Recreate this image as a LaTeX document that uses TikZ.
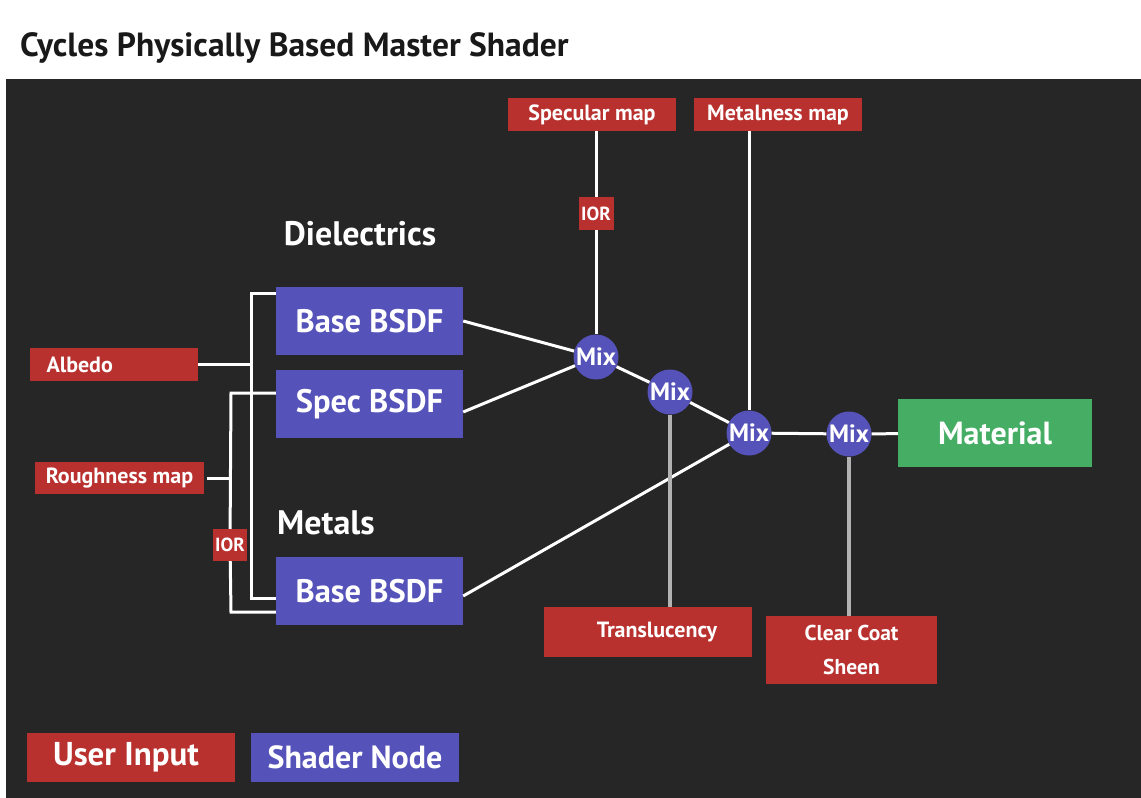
\documentclass[tikz,border=0pt]{standalone}
\usepackage{fontspec}
\setmainfont{PT Sans}
\definecolor{panelgray}{HTML}{262626}
\definecolor{inputred}{HTML}{B8312F}
\definecolor{shaderblue}{HTML}{5553B9}
\definecolor{materialgreen}{HTML}{46AD64}
\definecolor{paramgray}{HTML}{B2B2B2}
\tikzset{
  wire/.style={draw=white,line width=3pt},
  paramwire/.style={draw=paramgray,line width=4pt},
  userinput/.style={fill=inputred,text=white,inner sep=0pt,font=\bfseries\fontsize{22}{26}\selectfont},
  shadernode/.style={fill=shaderblue,text=white,inner sep=0pt,minimum width=187pt,minimum height=68pt,font=\bfseries\fontsize{32.5}{38}\selectfont},
  mixnode/.style={circle,fill=shaderblue,text=white,inner sep=0pt,minimum size=45pt,font=\bfseries\fontsize{25}{30}\selectfont},
  grouplabel/.style={text=white,font=\bfseries\fontsize{34}{40}\selectfont},
}
\begin{document}
\begin{tikzpicture}[x=1pt,y=-1pt]
    \pgfmathsetmacro{\mapwidth}{168}
    \pgfmathsetmacro{\mapheight}{33}
    \fill[white] (0,0) rectangle (1141,798);
    \fill[panelgray] (6,79) rectangle (1141,798);
    \node[anchor=base west,text=black!90,inner sep=0pt,font=\bfseries\fontsize{33.5}{40}\selectfont] (title) at (20,56) {Cycles Physically Based Master Shader};
    % inputs on top
    \node[userinput,minimum width=\mapwidth pt,minimum height=\mapheight pt] (specmap) at (592,114.5) {Specular map};
    \node[userinput,minimum width=\mapwidth pt,minimum height=\mapheight pt] (metalmap) at (778,114.5) {Metalness map};
    \node[userinput,minimum width=35pt,minimum height=33pt,font=\bfseries\fontsize{19}{24}\selectfont] (iortop) at (596,213.5) {IOR};
    % shader nodes
    \node[grouplabel] (dielectrics) at (360,234) {Dielectrics};
    \node[shadernode] (base1) at (369.5,321) {Base BSDF};
    \node[shadernode] (spec) at (369.5,404) {Spec BSDF};
    \node[grouplabel] (metals) at (326,523) {Metals};
    \node[shadernode] (base2) at (369.5,591) {Base BSDF};
    \node[mixnode] (mix1) at (596,357) {Mix};
    \node[mixnode] (mix2) at (670,392) {Mix};
    \node[mixnode] (mix3) at (749,433) {Mix};
    \node[mixnode] (mix4) at (849,434) {Mix};
    \node[fill=materialgreen,text=white,inner sep=0pt,minimum width=194pt,minimum height=68pt,font=\bfseries\fontsize{32}{40}\selectfont] (material) at (995,433) {Material};
    % inputs below and left
    \node[userinput,minimum width=208pt,minimum height=50pt] (transl) at (648,632) {\hspace*{18pt}Translucency};
    \node[userinput,minimum width=171pt,minimum height=68pt,align=center,font=\bfseries\fontsize{21.5}{34}\selectfont] (coat) at (851.5,650) {Clear Coat\\Sheen};
    \node[userinput,minimum width=\mapwidth pt,minimum height=\mapheight pt,text width=134pt,align=left] (albedo) at (113.5,364.5) {Albedo};
    \node[userinput,minimum width=169pt,minimum height=32pt] (rough) at (119.5,478) {Roughness map};
    \node[userinput,minimum width=34pt,minimum height=32pt,font=\bfseries\fontsize{19}{24}\selectfont] (iorleft) at (230,545) {IOR};
    \coordinate (atop) at (251,293);
    \coordinate (abot) at (251,598);
    \coordinate (rtop) at (231,393);
    \coordinate (rbot) at (231,612);
    \draw[wire] (albedo.east) -- (albedo.east -| atop);
    \draw[wire] (base1.west |- atop) -- (atop) -- (abot) -- (abot -| base2.west);
    \draw[wire] ([xshift=3pt]rough.east) -- (rough.east -| rtop);
    \draw[wire] (spec.west |- rtop) -- (rtop) -- (iorleft);
    \draw[wire] (iorleft) -- (rbot) -- (rbot -| base2.west);
    % mixing chain
    \draw[wire] (base1.east) -- (mix1);
    \draw[wire] ([yshift=-8pt]spec.east) -- (mix1);
    \draw[wire] ([yshift=-5pt]base2.east) -- (mix3);
    \draw[wire] (mix1) -- (mix2) -- (mix3) -- (mix4) -- (material);
    \draw[wire] (iortop |- specmap.south) -- (iortop) -- (mix1);
    \draw[wire] (mix3 |- metalmap.south) -- (mix3);
    \draw[paramwire] (mix2) -- (mix2 |- transl.north);
    \draw[paramwire] (mix4) -- (mix4 |- coat.north);
    % legend
    \node[userinput,minimum width=208pt,minimum height=49pt,font=\bfseries\fontsize{33}{38}\selectfont] (legendinput) at (131,757.5) {User Input\hspace*{10pt}};
    \node[fill=shaderblue,text=white,inner sep=0pt,minimum width=208pt,minimum height=49pt,font=\bfseries\fontsize{32}{38}\selectfont] (legendshader) at (355,757.5) {Shader Node};
\end{tikzpicture}
\end{document}
